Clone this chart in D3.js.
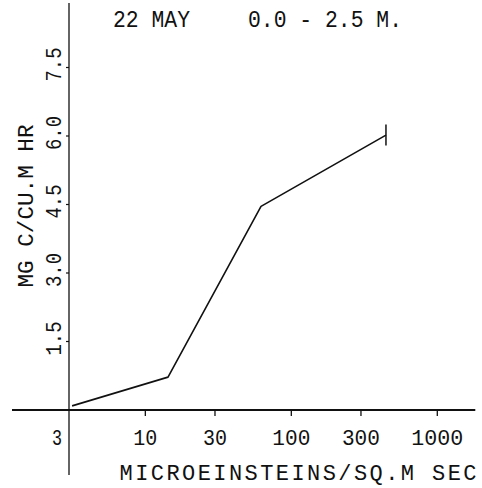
<!DOCTYPE html>
<html>
<head>
<meta charset="utf-8">
<script src="https://cdn.jsdelivr.net/npm/d3@7"></script>
<style>
  html, body { margin: 0; padding: 0; background: #fff; }
  svg { display: block; }
  text { font-family: "Liberation Mono", "DejaVu Sans Mono", monospace; fill: #111; }
</style>
</head>
<body>
<svg id="chart" width="482" height="488"></svg>
<script>
// Photosynthesis vs. light, 22 May, 0.0 - 2.5 m
const light = [3.15, 14.3, 62, 445];          // microeinsteins / sq.m sec
const rate = [0.09, 0.72, 4.46, 6.02];        // mg C / cu.m hr
const rateErr = [0, 0, 0, 0.23];              // half-length of error bar
const xTicks = [3, 10, 30, 100, 300, 1000];
const xTickLabels = ["3", "10", "30", "100", "300", "1000"];
const yTicks = [1.5, 3.0, 4.5, 6.0, 7.5];
const yTickLabels = ["1.5", "3.0", "4.5", "6.0", "7.5"];
const titleLeft = "22 MAY";
const titleRight = "0.0 - 2.5 M.";
const xTitle = "MICROEINSTEINS/SQ.M SEC";
const yTitle = "MG C/CU.M HR";

const svg = d3.select("#chart");
const x = d3.scaleLog().domain([3, 1000]).range([69, 437.3]);
const y = d3.scaleLinear().domain([0, 7.5]).range([410, 67.5]);

const ink = "#111";
const fs = 22;

// axis lines
svg.append("line")
  .attr("x1", x(3) - 57).attr("x2", x(1000) + 38)
  .attr("y1", y(0)).attr("y2", y(0))
  .attr("stroke", ink).attr("stroke-width", 1.8);
svg.append("line")
  .attr("x1", x(3)).attr("x2", x(3))
  .attr("y1", 3).attr("y2", y(0) + 65)
  .attr("stroke", ink).attr("stroke-width", 1.3);

// x ticks and labels
const xt = svg.append("g");
xt.selectAll("line").data(xTicks.slice(1)).join("line")
  .attr("x1", d => x(d)).attr("x2", d => x(d))
  .attr("y1", y(0)).attr("y2", y(0) + 6)
  .attr("stroke", ink).attr("stroke-width", 1.3);
xt.selectAll("text").data(xTicks).join("text")
  .attr("x", (d, i) => x(d) + (i === 0 ? -12 : 0))
  .attr("y", y(0) + 35)
  .attr("text-anchor", "middle")
  .attr("font-size", fs)
  .attr("textLength", (d, i) => xTickLabels[i].length * 10 + (xTickLabels[i].length - 1) * 4)
  .attr("lengthAdjust", "spacingAndGlyphs")
  .text((d, i) => xTickLabels[i]);

// y ticks and rotated labels
const yt = svg.append("g");
yt.selectAll("line").data(yTicks).join("line")
  .attr("x1", x(3) - 3).attr("x2", x(3))
  .attr("y1", d => y(d)).attr("y2", d => y(d))
  .attr("stroke", ink).attr("stroke-width", 1.2);
yt.selectAll("text").data(yTicks).join("text")
  .attr("transform", d => `translate(${x(3) - 8},${y(d) - 3}) rotate(-90)`)
  .attr("text-anchor", "middle")
  .attr("font-size", fs)
  .attr("textLength", 34)
  .attr("lengthAdjust", "spacingAndGlyphs")
  .text((d, i) => yTickLabels[i]);

// axis titles
svg.append("text")
  .attr("x", 298).attr("y", 480)
  .attr("text-anchor", "middle")
  .attr("font-size", fs)
  .attr("textLength", 357)
  .attr("lengthAdjust", "spacing")
  .text(xTitle);
svg.append("text")
  .attr("transform", "translate(33,206) rotate(-90)")
  .attr("text-anchor", "middle")
  .attr("font-size", fs)
  .attr("textLength", 163)
  .attr("lengthAdjust", "spacingAndGlyphs")
  .text(yTitle);

// title
svg.append("text")
  .attr("x", 113).attr("y", 27)
  .attr("font-size", fs + 1)
  .attr("textLength", 77)
  .attr("lengthAdjust", "spacingAndGlyphs")
  .text(titleLeft);
svg.append("text")
  .attr("x", 248).attr("y", 27)
  .attr("font-size", fs + 1)
  .attr("textLength", 154)
  .attr("lengthAdjust", "spacingAndGlyphs")
  .text(titleRight);

// data line
const pts = light.map((v, i) => [v, rate[i]]);
svg.append("path")
  .datum(pts)
  .attr("d", d3.line().x(d => x(d[0])).y(d => y(d[1])))
  .attr("fill", "none")
  .attr("stroke", ink)
  .attr("stroke-width", 1.6)
  .attr("stroke-linejoin", "round");

// error bars
svg.append("g").selectAll("line")
  .data(light.map((v, i) => ({ v, r: rate[i], e: rateErr[i] })).filter(d => d.e > 0))
  .join("line")
  .attr("x1", d => x(d.v)).attr("x2", d => x(d.v))
  .attr("y1", d => y(d.r + d.e)).attr("y2", d => y(d.r - d.e))
  .attr("stroke", ink).attr("stroke-width", 1.5);
</script>
</body>
</html>
